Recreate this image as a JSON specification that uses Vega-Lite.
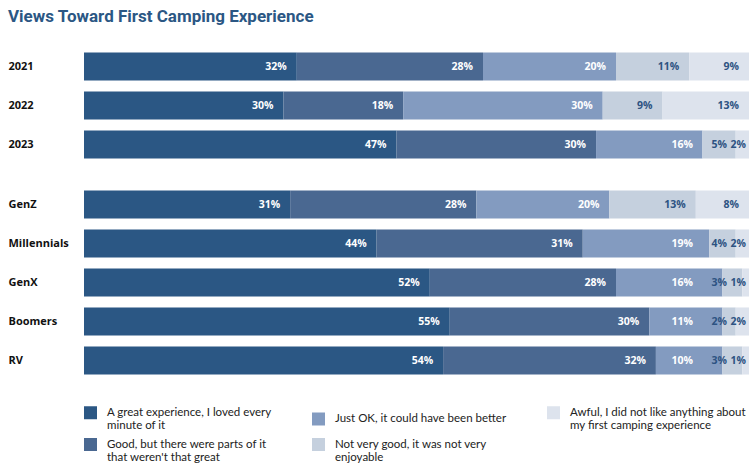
{
  "$schema": "https://vega.github.io/schema/vega-lite/v6.json",
  "padding": {"left": 8, "top": 8, "right": 7, "bottom": 0},
  "title": {"text": "Views Toward First Camping Experience", "anchor": "start", "frame": "bounds", "font": "Roboto", "fontSize": 17, "fontWeight": "bold", "color": "#2b5784", "offset": 21},
  "datasets": {
    "d": [
      {"group": "2021", "panel": "year", "rank": 1, "value": 0.32, "response": "A great experience, I loved every|minute of it"},
      {"group": "2021", "panel": "year", "rank": 2, "value": 0.28, "response": "Good, but there were parts of it|that weren't that great"},
      {"group": "2021", "panel": "year", "rank": 3, "value": 0.20, "response": "Just OK, it could have been better"},
      {"group": "2021", "panel": "year", "rank": 4, "value": 0.11, "response": "Not very good, it was not very|enjoyable"},
      {"group": "2021", "panel": "year", "rank": 5, "value": 0.09, "response": "Awful, I did not like anything about|my first camping experience"},
      {"group": "2022", "panel": "year", "rank": 1, "value": 0.30, "response": "A great experience, I loved every|minute of it"},
      {"group": "2022", "panel": "year", "rank": 2, "value": 0.18, "response": "Good, but there were parts of it|that weren't that great"},
      {"group": "2022", "panel": "year", "rank": 3, "value": 0.30, "response": "Just OK, it could have been better"},
      {"group": "2022", "panel": "year", "rank": 4, "value": 0.09, "response": "Not very good, it was not very|enjoyable"},
      {"group": "2022", "panel": "year", "rank": 5, "value": 0.13, "response": "Awful, I did not like anything about|my first camping experience"},
      {"group": "2023", "panel": "year", "rank": 1, "value": 0.47, "response": "A great experience, I loved every|minute of it"},
      {"group": "2023", "panel": "year", "rank": 2, "value": 0.30, "response": "Good, but there were parts of it|that weren't that great"},
      {"group": "2023", "panel": "year", "rank": 3, "value": 0.16, "response": "Just OK, it could have been better"},
      {"group": "2023", "panel": "year", "rank": 4, "value": 0.05, "response": "Not very good, it was not very|enjoyable"},
      {"group": "2023", "panel": "year", "rank": 5, "value": 0.02, "response": "Awful, I did not like anything about|my first camping experience"},
      {"group": "GenZ", "panel": "gen", "rank": 1, "value": 0.31, "response": "A great experience, I loved every|minute of it"},
      {"group": "GenZ", "panel": "gen", "rank": 2, "value": 0.28, "response": "Good, but there were parts of it|that weren't that great"},
      {"group": "GenZ", "panel": "gen", "rank": 3, "value": 0.20, "response": "Just OK, it could have been better"},
      {"group": "GenZ", "panel": "gen", "rank": 4, "value": 0.13, "response": "Not very good, it was not very|enjoyable"},
      {"group": "GenZ", "panel": "gen", "rank": 5, "value": 0.08, "response": "Awful, I did not like anything about|my first camping experience"},
      {"group": "Millennials", "panel": "gen", "rank": 1, "value": 0.44, "response": "A great experience, I loved every|minute of it"},
      {"group": "Millennials", "panel": "gen", "rank": 2, "value": 0.31, "response": "Good, but there were parts of it|that weren't that great"},
      {"group": "Millennials", "panel": "gen", "rank": 3, "value": 0.19, "response": "Just OK, it could have been better"},
      {"group": "Millennials", "panel": "gen", "rank": 4, "value": 0.04, "response": "Not very good, it was not very|enjoyable"},
      {"group": "Millennials", "panel": "gen", "rank": 5, "value": 0.02, "response": "Awful, I did not like anything about|my first camping experience"},
      {"group": "GenX", "panel": "gen", "rank": 1, "value": 0.52, "response": "A great experience, I loved every|minute of it"},
      {"group": "GenX", "panel": "gen", "rank": 2, "value": 0.28, "response": "Good, but there were parts of it|that weren't that great"},
      {"group": "GenX", "panel": "gen", "rank": 3, "value": 0.16, "response": "Just OK, it could have been better"},
      {"group": "GenX", "panel": "gen", "rank": 4, "value": 0.03, "response": "Not very good, it was not very|enjoyable"},
      {"group": "GenX", "panel": "gen", "rank": 5, "value": 0.01, "response": "Awful, I did not like anything about|my first camping experience"},
      {"group": "Boomers", "panel": "gen", "rank": 1, "value": 0.55, "response": "A great experience, I loved every|minute of it"},
      {"group": "Boomers", "panel": "gen", "rank": 2, "value": 0.30, "response": "Good, but there were parts of it|that weren't that great"},
      {"group": "Boomers", "panel": "gen", "rank": 3, "value": 0.11, "response": "Just OK, it could have been better"},
      {"group": "Boomers", "panel": "gen", "rank": 4, "value": 0.02, "response": "Not very good, it was not very|enjoyable"},
      {"group": "Boomers", "panel": "gen", "rank": 5, "value": 0.02, "response": "Awful, I did not like anything about|my first camping experience"},
      {"group": "RV", "panel": "gen", "rank": 1, "value": 0.54, "response": "A great experience, I loved every|minute of it"},
      {"group": "RV", "panel": "gen", "rank": 2, "value": 0.32, "response": "Good, but there were parts of it|that weren't that great"},
      {"group": "RV", "panel": "gen", "rank": 3, "value": 0.10, "response": "Just OK, it could have been better"},
      {"group": "RV", "panel": "gen", "rank": 4, "value": 0.03, "response": "Not very good, it was not very|enjoyable"},
      {"group": "RV", "panel": "gen", "rank": 5, "value": 0.01, "response": "Awful, I did not like anything about|my first camping experience"}
    ]
  },
  "data": {"name": "d"},
  "transform": [
    {"stack": "value", "groupby": ["group"], "sort": [{"field": "rank", "order": "ascending"}], "as": ["v0", "v1"]}
  ],
  "spacing": 21,
  "vconcat": [
    {
      "width": 665,
      "height": {"step": 39},
      "transform": [{"filter": "datum.panel == 'year'"}],
      "encoding": {
        "y": {"field": "group", "type": "nominal", "sort": null, "title": null, "scale": {"paddingInner": 0.28, "paddingOuter": 0.14}}
      },
      "layer": [
        {
          "mark": {"type": "bar"},
          "encoding": {
            "x": {"field": "v0", "type": "quantitative", "scale": {"domain": [0, 1]}, "axis": null},
            "x2": {"field": "v1"},
            "color": {
              "field": "response", "type": "nominal",
              "scale": {
                "domain": ["A great experience, I loved every|minute of it", "Just OK, it could have been better", "Awful, I did not like anything about|my first camping experience", "Good, but there were parts of it|that weren't that great", "Not very good, it was not very|enjoyable"],
                "range": ["#2b5784", "#839bc0", "#dde3ed", "#4a6891", "#c5d0de"]
              },
              "legend": {"labelExpr": "split(datum.label, '|')"}
            }
          }
        },
        {
          "transform": [{"filter": "datum.rank <= 2 || (datum.rank == 3 && datum.v1 < 0.9) || (datum.rank >= 4 && datum.value >= 0.06)"}],
          "mark": {"type": "text", "align": "right", "dx": -10, "font": "Open Sans", "fontWeight": "bold", "fontSize": 10.5},
          "encoding": {
            "x": {"field": "v1", "type": "quantitative"},
            "text": {"field": "value", "type": "quantitative", "format": ".0%"},
            "color": {"condition": {"test": "datum.rank <= 3", "value": "#ffffff"}, "value": "#2d5382"}
          }
        },
        {
          "transform": [{"filter": "datum.rank == 3 && datum.v1 >= 0.9"}],
          "mark": {"type": "text", "align": "right", "dx": -56, "font": "Open Sans", "fontWeight": "bold", "fontSize": 10.5, "color": "#ffffff"},
          "encoding": {
            "x": {"datum": 1, "type": "quantitative"},
            "text": {"field": "value", "type": "quantitative", "format": ".0%"}
          }
        },
        {
          "transform": [{"filter": "datum.rank == 4 && datum.value < 0.06"}],
          "mark": {"type": "text", "align": "right", "dx": -22, "font": "Open Sans", "fontWeight": "bold", "fontSize": 10.5, "color": "#2d5382"},
          "encoding": {
            "x": {"datum": 1, "type": "quantitative"},
            "text": {"field": "value", "type": "quantitative", "format": ".0%"}
          }
        },
        {
          "transform": [{"filter": "datum.rank == 5 && datum.value < 0.06"}],
          "mark": {"type": "text", "align": "right", "dx": -3, "font": "Open Sans", "fontWeight": "bold", "fontSize": 10.5, "color": "#2d5382"},
          "encoding": {
            "x": {"datum": 1, "type": "quantitative"},
            "text": {"field": "value", "type": "quantitative", "format": ".0%"}
          }
        }
      ]
    },
    {
      "width": 665,
      "height": {"step": 39},
      "transform": [{"filter": "datum.panel == 'gen'"}],
      "encoding": {
        "y": {"field": "group", "type": "nominal", "sort": null, "title": null, "scale": {"paddingInner": 0.28, "paddingOuter": 0.14}}
      },
      "layer": [
        {
          "mark": {"type": "bar"},
          "encoding": {
            "x": {"field": "v0", "type": "quantitative", "scale": {"domain": [0, 1]}, "axis": null},
            "x2": {"field": "v1"},
            "color": {
              "field": "response", "type": "nominal",
              "scale": {
                "domain": ["A great experience, I loved every|minute of it", "Just OK, it could have been better", "Awful, I did not like anything about|my first camping experience", "Good, but there were parts of it|that weren't that great", "Not very good, it was not very|enjoyable"],
                "range": ["#2b5784", "#839bc0", "#dde3ed", "#4a6891", "#c5d0de"]
              },
              "legend": {"labelExpr": "split(datum.label, '|')"}
            }
          }
        },
        {
          "transform": [{"filter": "datum.rank <= 2 || (datum.rank == 3 && datum.v1 < 0.9) || (datum.rank >= 4 && datum.value >= 0.06)"}],
          "mark": {"type": "text", "align": "right", "dx": -10, "font": "Open Sans", "fontWeight": "bold", "fontSize": 10.5},
          "encoding": {
            "x": {"field": "v1", "type": "quantitative"},
            "text": {"field": "value", "type": "quantitative", "format": ".0%"},
            "color": {"condition": {"test": "datum.rank <= 3", "value": "#ffffff"}, "value": "#2d5382"}
          }
        },
        {
          "transform": [{"filter": "datum.rank == 3 && datum.v1 >= 0.9"}],
          "mark": {"type": "text", "align": "right", "dx": -56, "font": "Open Sans", "fontWeight": "bold", "fontSize": 10.5, "color": "#ffffff"},
          "encoding": {
            "x": {"datum": 1, "type": "quantitative"},
            "text": {"field": "value", "type": "quantitative", "format": ".0%"}
          }
        },
        {
          "transform": [{"filter": "datum.rank == 4 && datum.value < 0.06"}],
          "mark": {"type": "text", "align": "right", "dx": -22, "font": "Open Sans", "fontWeight": "bold", "fontSize": 10.5, "color": "#2d5382"},
          "encoding": {
            "x": {"datum": 1, "type": "quantitative"},
            "text": {"field": "value", "type": "quantitative", "format": ".0%"}
          }
        },
        {
          "transform": [{"filter": "datum.rank == 5 && datum.value < 0.06"}],
          "mark": {"type": "text", "align": "right", "dx": -3, "font": "Open Sans", "fontWeight": "bold", "fontSize": 10.5, "color": "#2d5382"},
          "encoding": {
            "x": {"datum": 1, "type": "quantitative"},
            "text": {"field": "value", "type": "quantitative", "format": ".0%"}
          }
        }
      ]
    }
  ],
  "resolve": {"scale": {"color": "shared"}},
  "config": {
    "view": {"stroke": null},
    "axis": {"domain": false, "ticks": false, "grid": false, "labelAlign": "left", "labelPadding": 76, "labelFont": "Open Sans", "labelFontWeight": "bold", "labelFontSize": 11, "labelColor": "#111111"},
    "legend": {
      "orient": "bottom", "direction": "horizontal", "columns": 3, "title": null,
      "symbolType": "square", "symbolSize": 169, "symbolStrokeWidth": 0,
      "labelFont": "Lato", "labelFontSize": 11.5, "labelColor": "#222222",
      "labelLimit": 300, "labelOffset": 10, "columnPadding": 40, "rowPadding": 6, "offset": 26
    }
  }
}
